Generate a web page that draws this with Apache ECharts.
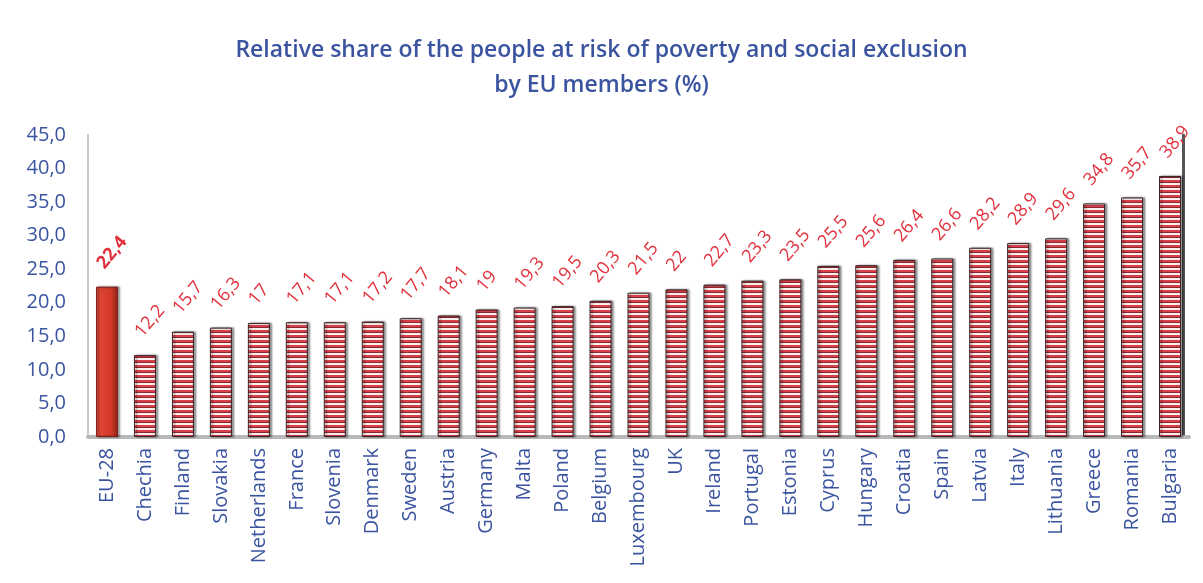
<!DOCTYPE html>
<html>
<head>
<meta charset="utf-8">
<script src="https://cdn.jsdelivr.net/npm/echarts@6/dist/echarts.min.js"></script>
<style>html,body{margin:0;padding:0;background:#fff}#c{width:1203px;height:583px}</style>
</head>
<body>
<div id="c"></div>
<script>
const categories = ["EU-28","Chechia","Finland","Slovakia","Netherlands","France","Slovenia","Denmark","Sweden","Austria","Germany","Malta","Poland","Belgium","Luxembourg","UK","Ireland","Portugal","Estonia","Cyprus","Hungary","Croatia","Spain","Latvia","Italy","Lithuania","Greece","Romania","Bulgaria"];
const values = [22.4,12.2,15.7,16.3,17,17.1,17.1,17.2,17.7,18.1,19,19.3,19.5,20.3,21.5,22,22.7,23.3,23.5,25.5,25.6,26.4,26.6,28.2,28.9,29.6,34.8,35.7,38.9];
const yTicks = [0,5,10,15,20,25,30,35,40,45];

const pc = document.createElement('canvas');
pc.width = 4; pc.height = 5;
const g = pc.getContext('2d');
g.fillStyle = '#fbeeee'; g.fillRect(0,0,4,5);
g.fillStyle = '#d8404a'; g.fillRect(0,0,4,2);
g.fillStyle = '#8a2a30'; g.fillRect(0,2,4,1);

const blue = '#3b54a0';
const font = "'Open Sans'";
const chart = echarts.init(document.getElementById('c'));
const fmt = v => String(v).replace('.', ',');
chart.setOption({
  animation: false,
  title: {
    text: 'Relative share of the people at risk of poverty and social exclusion\nby EU members (%)',
    left: 'center', top: 28,
    textStyle: {fontFamily: font, fontWeight: 600, fontSize: 23, color: blue, lineHeight: 35}
  },
  grid: {left: 88, right: 14, top: 135, bottom: 146},
  xAxis: {
    type: 'category', data: categories,
    axisLine: {show: true, lineStyle: {color: '#b8b8b8', width: 4}},
    axisTick: {show: false},
    axisLabel: {rotate: 90, fontFamily: font, fontSize: 20, color: blue, margin: 11}
  },
  yAxis: [{
    type: 'value', min: 0, max: 45, interval: 5,
    axisLine: {show: true, lineStyle: {color: '#c8c8c8', width: 2}},
    axisTick: {show: false},
    splitLine: {show: false},
    axisLabel: {fontFamily: font, fontSize: 20, color: blue, margin: 22,
      formatter: v => v.toFixed(1).replace('.', ',')}
  }, {
    type: 'value', min: 0, max: 45, interval: 5, position: 'right', offset: -6,
    axisLine: {show: true, lineStyle: {color: '#555', width: 3}},
    axisTick: {show: false}, axisLabel: {show: false}, splitLine: {show: false}
  }],
  series: [{
    type: 'bar',
    barWidth: 22,
    data: values.map((v, i) => i === 0 ? {
      value: v,
      itemStyle: {color: {type: 'linear', x: 0, y: 0, x2: 1, y2: 0, colorStops: [
        {offset: 0, color: '#e04a3a'}, {offset: 0.7, color: '#d23828'}, {offset: 1, color: '#8c2218'}]},
        borderColor: '#7a1f18', borderWidth: 1},
      label: {fontWeight: 'bold'}
    } : v),
    itemStyle: {color: {image: pc, repeat: 'repeat'}, borderColor: '#3a2224', borderWidth: 1,
      shadowColor: 'rgba(0,0,0,0.45)', shadowOffsetX: 2, shadowBlur: 2},
    label: {
      show: true, position: 'top', rotate: 50, align: 'left', verticalAlign: 'middle',
      distance: 28, offset: [-10, 0],
      fontFamily: font, fontSize: 18, color: '#e2303c',
      formatter: p => fmt(p.value)
    }
  }]
});
</script>
</body>
</html>
